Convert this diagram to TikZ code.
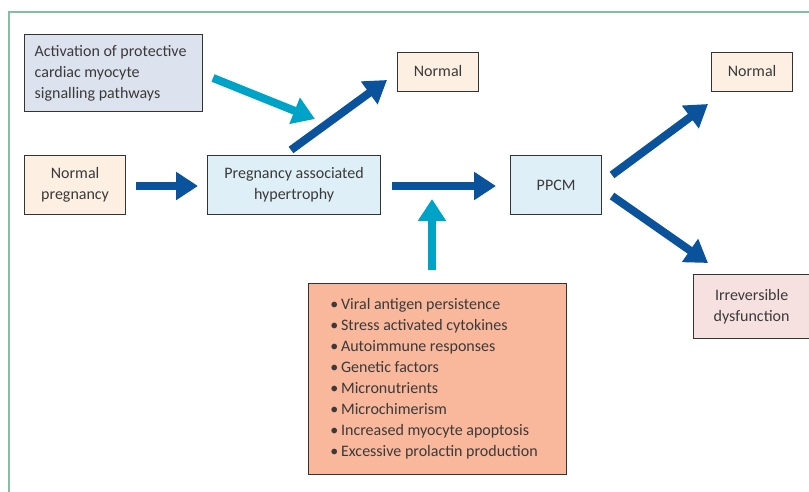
\documentclass[tikz,border=0pt]{standalone}
\usepackage{fontspec}
\setmainfont{Carlito}
\usetikzlibrary{arrows.meta}
\definecolor{framegreen}{HTML}{86BFA0}
\definecolor{darkblue}{HTML}{0A529C}
\definecolor{cyanarrow}{HTML}{00A3C8}
\definecolor{edgegrey}{HTML}{333333}
\definecolor{txt}{HTML}{3A3A3A}
\definecolor{fillact}{HTML}{DDE3EE}
\definecolor{fillnorm}{HTML}{FDF0E3}
\definecolor{fillhyp}{HTML}{DEEFF7}
\definecolor{fillirr}{HTML}{F6E1E0}
\definecolor{fillbul}{HTML}{F9B79B}
\tikzset{
  box/.style={draw=edgegrey, line width=1.2pt, anchor=north west, inner sep=0pt,
    align=center, text=txt, font=\fontsize{16}{21}\selectfont},
  bigarrow/.style={draw=darkblue, line width=8pt,
    -{Triangle[length=22pt,width=27pt]}},
  cyanarr/.style={draw=cyanarrow, line width=8pt,
    -{Triangle[length=22pt,width=27pt]}},
}
\begin{document}
\begin{tikzpicture}[x=1pt,y=-1pt]
\useasboundingbox (0,0) rectangle (809,492);
% frame
\draw[framegreen, line width=1.2pt] (9,492) -- (9,12) -- (809,12);
% boxes
\node[box, fill=fillact, minimum width=178pt, minimum height=77pt, align=left] (act) at (24,34)
  {\hspace*{-6pt}\begin{tabular}{@{}l@{}}Activation of protective\\ cardiac myocyte\\ signalling pathways\end{tabular}};
\node[box, fill=fillnorm, minimum width=101pt, minimum height=59pt] (np) at (24,155) {Normal\\ pregnancy};
\node[box, fill=fillhyp, minimum width=173pt, minimum height=59pt] (hyp) at (207,155) {Pregnancy associated\\ hypertrophy};
\node[box, fill=fillnorm, minimum width=81pt, minimum height=39pt] (n1) at (397,52) {\raisebox{1.5pt}{Normal}};
\node[box, fill=fillhyp, minimum width=91pt, minimum height=59pt] (ppcm) at (510,155) {PPCM};
\node[box, fill=fillnorm, minimum width=81pt, minimum height=39pt] (n2) at (711,52) {\raisebox{1.5pt}{Normal}};
\node[box, fill=fillirr, minimum width=120pt, minimum height=64pt, text width=120pt] (irr) at (693,274)
  {\hspace*{-4pt}Irreversible\\ \hspace*{-4pt}dysfunction};
\node[box, fill=fillbul, minimum width=258pt, minimum height=191pt, align=left] (bul) at (308,283)
  {\hspace*{-7pt}\begin{tabular}{@{}l@{}}
  \textbullet\,Viral antigen persistence\\
  \textbullet\,Stress activated cytokines\\
  \textbullet\,Autoimmune responses\\
  \textbullet\,Genetic factors\\
  \textbullet\,Micronutrients\\
  \textbullet\,Microchimerism\\
  \textbullet\,Increased myocyte apoptosis\\
  \textbullet\,Excessive prolactin production
  \end{tabular}};
% arrow end coordinates
\coordinate (a2s) at (291,150);
\coordinate (a2e) at (387,80);
\coordinate (c1s) at (213,78);
\coordinate (c1e) at (315,119);
\coordinate (c2s) at (432,270);
\coordinate (c2e) at (432,199);
\coordinate (a4s) at (612,175);
\coordinate (a4e) at (708,104);
\coordinate (a5s) at (612,196);
\coordinate (a5e) at (708,263);
% arrows
\draw[bigarrow, shorten <=10pt, shorten >=9pt] (np.east |- 0,186) -- (hyp.west |- 0,186);
\draw[bigarrow, shorten <=11pt, shorten >=14pt] (hyp.east |- 0,186) -- (ppcm.west |- 0,186);
\draw[bigarrow] (a2s) -- (a2e);
\draw[cyanarr] (c1s) -- (c1e);
\draw[cyanarr] (c2s) -- (c2e);
\draw[bigarrow] (a4s) -- (a4e);
\draw[bigarrow] (a5s) -- (a5e);
\end{tikzpicture}
\end{document}
